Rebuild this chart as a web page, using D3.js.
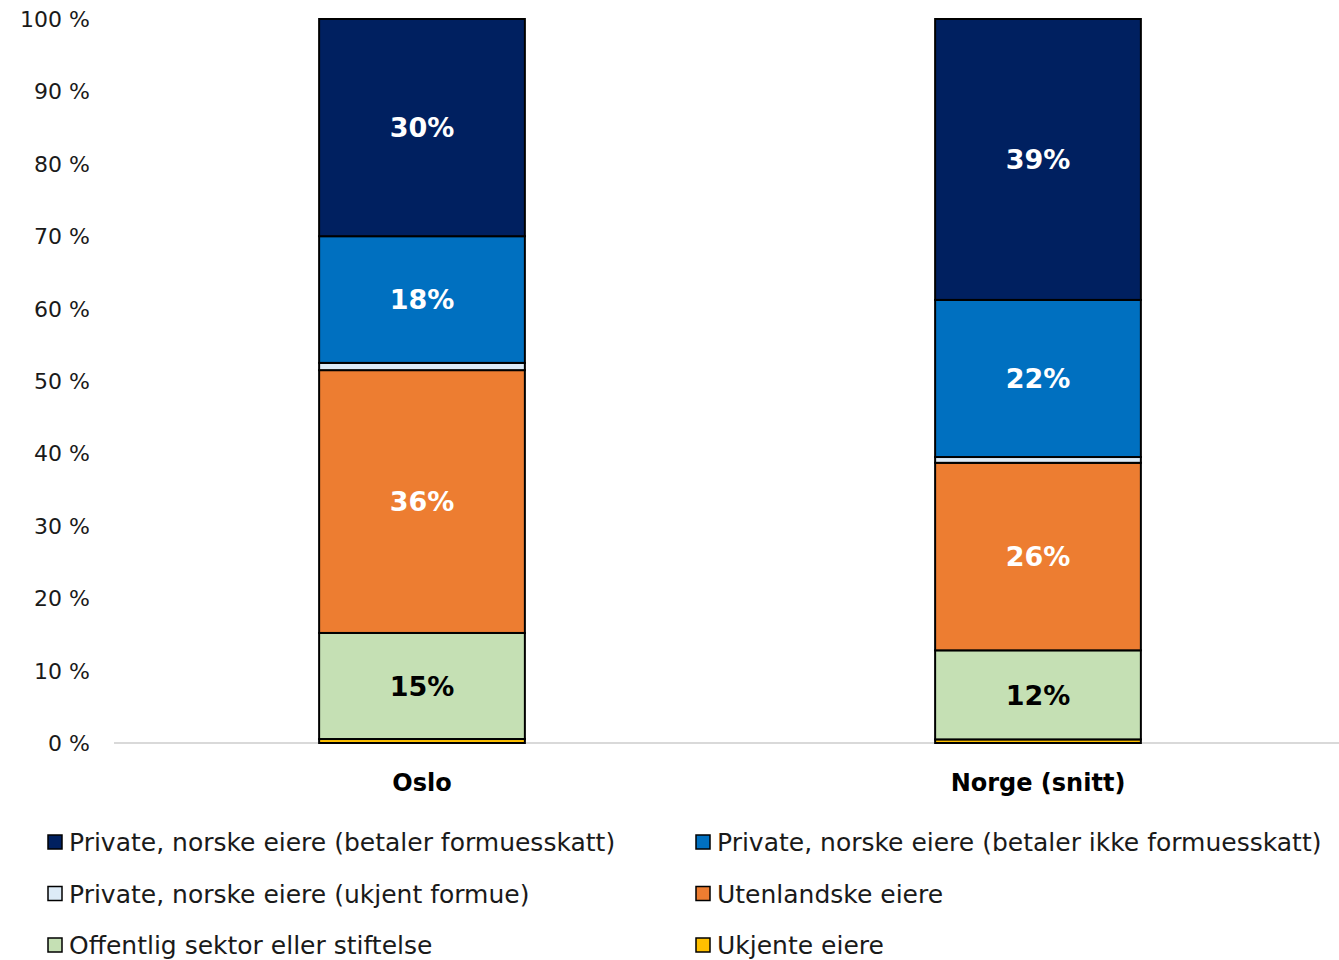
<!DOCTYPE html>
<html>
<head>
    <meta charset="utf-8">
    <title>eierskap</title>
    <script src="https://cdn.jsdelivr.net/npm/d3@7/dist/d3.min.js"></script>
    <style>
        body { margin: 0; background: #fff; }
        svg { display: block; font-family: "Century Gothic", "DejaVu Sans", sans-serif; }
    </style>
</head>
<body>
    <svg id="chart" width="1339" height="960"></svg>

    <script>
// data
var categories = ["Oslo", "Norge (snitt)"];
var seriesNames = [
    "Ukjente eiere",
    "Offentlig sektor eller stiftelse",
    "Utenlandske eiere",
    "Private, norske eiere (ukjent formue)",
    "Private, norske eiere (betaler ikke formuesskatt)",
    "Private, norske eiere (betaler formuesskatt)"
];
var seriesColors = ["#FFC000", "#C5E0B4", "#ED7D31", "#DDEBF7", "#0070C0", "#002060"];
var osloValues  = [0.55, 14.65, 36.3, 1.0, 17.5, 30.0];
var norgeValues = [0.5, 12.3, 25.9, 0.8, 21.7, 38.8];
var osloLabels  = ["", "15%", "36%", "", "18%", "30%"];
var norgeLabels = ["", "12%", "26%", "", "22%", "39%"];
var labelColors = ["#000", "#000", "#fff", "#000", "#fff", "#fff"];
var yTicks = [0, 10, 20, 30, 40, 50, 60, 70, 80, 90, 100];
var legendOrder = [5, 4, 3, 2, 1, 0];

var values = [osloValues, norgeValues];
var labels = [osloLabels, norgeLabels];

var svg = d3.select("#chart");

var x = d3.scaleBand()
    .domain(categories)
    .range([114, 1346])
    .paddingInner(0.666)
    .paddingOuter(0.333);

var y = d3.scaleLinear()
    .domain([0, 100])
    .range([743, 19]);

// y axis labels
svg.append("g").selectAll("text")
    .data(yTicks)
    .enter().append("text")
      .attr("x", 90)
      .attr("y", function (d) { return y(d); })
      .attr("dy", "0.36em")
      .attr("text-anchor", "end")
      .attr("font-size", 22)
      .attr("fill", "#1a1a1a")
      .text(function (d) { return d + " %"; });

// baseline
svg.append("line")
    .attr("x1", 114).attr("x2", 1339)
    .attr("y1", y(0)).attr("y2", y(0))
    .attr("stroke", "#d9d9d9")
    .attr("stroke-width", 2);

// stack rows
var rows = categories.map(function (c, i) {
    var row = { cat: c };
    seriesNames.forEach(function (s, j) { row[s] = values[i][j]; });
    return row;
});
var stack = d3.stack().keys(seriesNames)(rows);

var layers = svg.append("g").selectAll("g")
    .data(stack)
    .enter().append("g")
      .attr("fill", function (d, i) { return seriesColors[i]; });

layers.selectAll("rect")
    .data(function (d) { return d; })
    .enter().append("rect")
      .attr("x", function (d) { return x(d.data.cat); })
      .attr("width", x.bandwidth())
      .attr("y", function (d) { return y(d[1]); })
      .attr("height", function (d) { return y(d[0]) - y(d[1]); })
      .attr("stroke", "#000")
      .attr("stroke-width", 2);

// value labels
stack.forEach(function (layer, j) {
    layer.forEach(function (d, i) {
        var t = labels[i][j];
        if (!t) return;
        svg.append("text")
            .attr("x", x(d.data.cat) + x.bandwidth() / 2)
            .attr("y", y((d[0] + d[1]) / 2))
            .attr("dy", "0.36em")
            .attr("text-anchor", "middle")
            .attr("font-size", 27)
            .attr("font-weight", "bold")
            .attr("fill", labelColors[j])
            .text(t);
    });
});

// category labels
svg.append("g").selectAll("text")
    .data(categories)
    .enter().append("text")
      .attr("x", function (d) { return x(d) + x.bandwidth() / 2; })
      .attr("y", 782)
      .attr("dy", "0.36em")
      .attr("text-anchor", "middle")
      .attr("font-size", 24)
      .attr("font-weight", "bold")
      .attr("fill", "#000")
      .text(function (d) { return d; });

// legend
var legend = svg.append("g").selectAll("g")
    .data(legendOrder)
    .enter().append("g")
      .attr("transform", function (d, i) {
          return "translate(" + (i % 2 === 0 ? 48 : 696) + "," + (842 + Math.floor(i / 2) * 51.5) + ")";
      });

legend.append("rect")
    .attr("x", 0).attr("y", -7)
    .attr("width", 14).attr("height", 14)
    .attr("fill", function (d) { return seriesColors[d]; })
    .attr("stroke", "#000")
    .attr("stroke-width", 1.5);

legend.append("text")
    .attr("x", 21)
    .attr("y", 0)
    .attr("dy", "0.36em")
    .attr("font-size", 25)
    .attr("fill", "#1a1a1a")
    .text(function (d) { return seriesNames[d]; });
    </script>
</body>
</html>
